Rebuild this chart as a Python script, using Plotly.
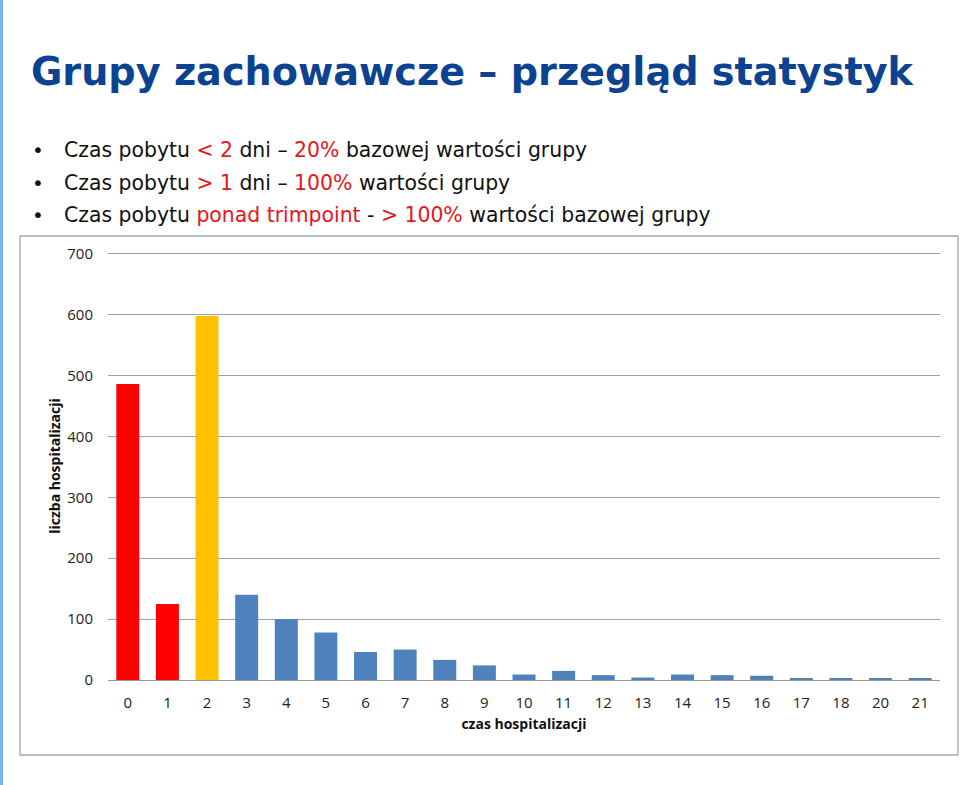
import plotly.graph_objects as go

categories = ["0", "1", "2", "3", "4", "5", "6", "7", "8", "9", "10", "11", "12", "13", "14", "15", "16", "17", "18", "20", "21"]
values = [486, 125, 598, 140, 100, 78, 46, 50, 33, 24, 9, 15, 8, 4, 9, 8, 7, 3, 3, 2, 3]
bar_colors = ["#FF0000", "#FF0000", "#FFC000"] + ["#4F81BD"] * 18
y_ticks = [0, 100, 200, 300, 400, 500, 600, 700]

title_text = "Grupy zachowawcze \u2013 przegląd statystyk"
RED = "#E8141C"
bullets = [
    f"Czas pobytu <span style='color:{RED}'>&lt; 2</span> dni \u2013 <span style='color:{RED}'>20%</span> bazowej wartości grupy",
    f"Czas pobytu <span style='color:{RED}'>&gt; 1</span> dni \u2013 <span style='color:{RED}'>100%</span> wartości grupy",
    f"Czas pobytu <span style='color:{RED}'>ponad trimpoint</span> - <span style='color:{RED}'>&gt; 100%</span> wartości bazowej grupy",
]
bullet_y = [150, 183, 215]

W, H = 960, 785
YMAX = 703
L, R, B = 108, 940, 680
T = round(B - YMAX * (426 / 700))


def px(x):
    return (x - L) / (R - L)


def py(y):
    return (B - y) / (B - T)


fig = go.Figure(go.Bar(x=categories, y=values, marker=dict(color=bar_colors, line=dict(width=0)), width=0.58))

annotations = [
    dict(text="<b>" + title_text + "</b>", x=px(29), y=py(72), xref="paper", yref="paper", xanchor="left",
         yanchor="middle", showarrow=False, font=dict(family="DejaVu Sans", size=38.2, color="#0B4391")),
]
for t, yy in zip(bullets, bullet_y):
    annotations.append(dict(text="\u2022", x=px(30), y=py(yy), xref="paper", yref="paper", xanchor="left",
                            yanchor="middle", showarrow=False, font=dict(family="DejaVu Sans", size=20, color="#111111")))
    annotations.append(dict(text=t, x=px(62), y=py(yy), xref="paper", yref="paper", xanchor="left",
                            yanchor="middle", showarrow=False, font=dict(family="DejaVu Sans", size=20.4, color="#111111")))

shapes = [
    dict(type="rect", xref="paper", yref="paper", x0=px(20), x1=px(958), y0=py(236), y1=py(755),
         line=dict(color="#A6A6A6", width=1.3), fillcolor="rgba(0,0,0,0)", layer="below"),
    dict(type="rect", xref="paper", yref="paper", x0=px(0), x1=px(3), y0=py(0), y1=py(785),
         line=dict(width=0), fillcolor="#74B6E6"),
]

fig.update_layout(
    width=W, height=H,
    margin=dict(l=L, r=W - R, t=T, b=H - B, pad=0),
    plot_bgcolor="white", paper_bgcolor="white",
    showlegend=False,
    annotations=annotations,
    shapes=shapes,
    font=dict(family="Open Sans", size=15, color="#222222"),
    xaxis=dict(type="category", showgrid=False, showline=True, linecolor="#999999", linewidth=1.3,
               ticks="", ticklabelstandoff=9, tickfont=dict(size=15, color="#222222"),
               title=dict(text="<b>czas hospitalizacji</b>", font=dict(size=14, color="#111111"), standoff=8)),
    yaxis=dict(range=[0, YMAX], tickvals=y_ticks, showgrid=True, gridcolor="#A0A0A0", gridwidth=1.3,
               zeroline=False, showline=False, ticks="", ticklabelstandoff=14,
               tickfont=dict(size=15, color="#222222"),
               title=dict(text="<b>liczba hospitalizacji</b>", font=dict(size=14, color="#111111"), standoff=3)),
    bargap=0.42,
)

fig.write_html("out.html")
